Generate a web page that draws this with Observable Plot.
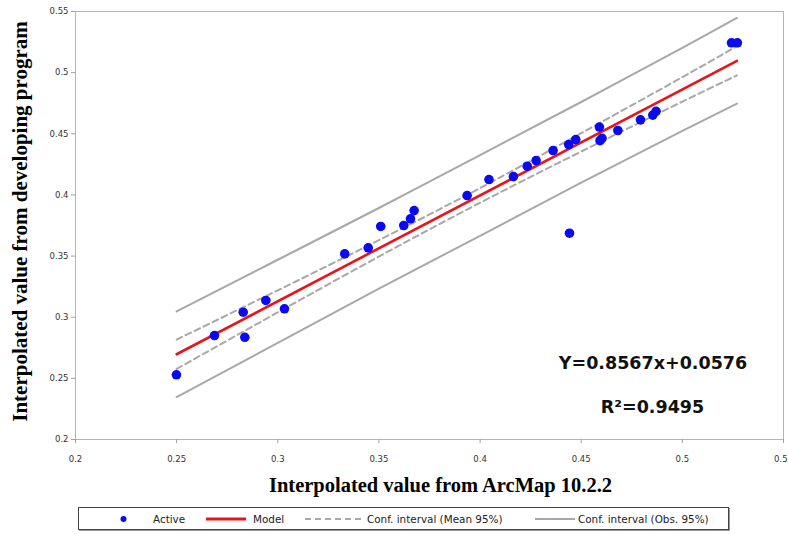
<!DOCTYPE html>
<html><head><meta charset="utf-8">
<script src="https://cdn.jsdelivr.net/npm/d3@7"></script>
<script src="https://cdn.jsdelivr.net/npm/@observablehq/plot@0.6"></script>
<style>
body{margin:0;background:#fff;}
#wrap{position:relative;width:788px;height:534px;overflow:hidden;background:#fff;}
#legend{position:absolute;left:78px;top:507px;width:651px;height:23px;border:1px solid #444;box-sizing:border-box;background:#fff;box-shadow:1px 1px 0 #999;}
.lt{position:absolute;top:50%;transform:translateY(-52%);font:10.4px "DejaVu Sans",sans-serif;color:#222;white-space:nowrap;}
.sw{position:absolute;top:0;}
</style></head><body>
<div id="wrap"><div id="chart"></div>
<div id="legend">
  <svg class="sw" width="651" height="21" style="left:0">
    <circle cx="44.5" cy="11" r="3" fill="#0a0af0"></circle>
    <line x1="127" x2="167" y1="11" y2="11" stroke="#e8141c" stroke-width="3"></line>
    <line x1="226" x2="286" y1="11" y2="11" stroke="#a8a8a8" stroke-width="2" stroke-dasharray="6,4"></line>
    <line x1="456" x2="496" y1="11" y2="11" stroke="#a8a8a8" stroke-width="2"></line>
  </svg>
  <span class="lt" style="left:74px">Active</span>
  <span class="lt" style="left:174px">Model</span>
  <span class="lt" style="left:288px">Conf. interval (Mean 95%)</span>
  <span class="lt" style="left:499px">Conf. interval (Obs. 95%)</span>
</div>
</div>
<script>
// Observed points ("Active")
const activeX = [0.2499, 0.2687, 0.2829, 0.2837, 0.2941, 0.3033, 0.3331, 0.3447, 0.3509, 0.3623, 0.3656, 0.3674, 0.3936, 0.4044, 0.4165, 0.4233, 0.4277, 0.4361, 0.4438, 0.4473, 0.4590, 0.4603, 0.4593, 0.4681, 0.4793, 0.4854, 0.4870, 0.4442, 0.5243, 0.5272];
const activeY = [0.2529, 0.2850, 0.3041, 0.2836, 0.3137, 0.3069, 0.3518, 0.3567, 0.3742, 0.3750, 0.3805, 0.3872, 0.3995, 0.4126, 0.4150, 0.4235, 0.4281, 0.4363, 0.4412, 0.4453, 0.4555, 0.4463, 0.4444, 0.4527, 0.4614, 0.4653, 0.4684, 0.3687, 0.5244, 0.5244];
// Model line (end points)
const modelX = [0.25, 0.527];
const modelY = [0.2697, 0.5097];
// Confidence bands, read at these x positions
const bandX = [0.25, 0.30, 0.35, 0.40, 0.45, 0.50, 0.527];
const meanUpper = [0.2817, 0.3220, 0.3630, 0.4056, 0.4505, 0.4963, 0.5217];
const meanLower = [0.2577, 0.3040, 0.3496, 0.3936, 0.4355, 0.4763, 0.4977];
const obsUpper = [0.3047, 0.3470, 0.3893, 0.4326, 0.4760, 0.5203, 0.5447];
const obsLower = [0.2347, 0.2790, 0.3233, 0.3666, 0.4100, 0.4523, 0.4747];
// Axis ticks
const xTicks = [0.2, 0.25, 0.3, 0.35, 0.4, 0.45, 0.5, 0.55];
const yTicks = [0.2, 0.25, 0.3, 0.35, 0.4, 0.45, 0.5, 0.55];
const xTitle = "Interpolated value from ArcMap 10.2.2";
const yTitle = "Interpolated value from developing program";
const eqText = "Y=0.8567x+0.0576";
const r2Text = "R²=0.9495";

const pts = activeX.map((x, i) => ({x, y: activeY[i]}));
const model = modelX.map((x, i) => ({x, y: modelY[i]}));
const bands = bandX.map((x, i) => ({x, mu: meanUpper[i], ml: meanLower[i], ou: obsUpper[i], ol: obsLower[i]}));
const fmt = d => String(+d.toFixed(2));
const grey = "#a8a8a8";

const chart = Plot.plot({
  width: 788, height: 505,
  marginLeft: 75, marginRight: 5, marginTop: 11, marginBottom: 66,
  x: {domain: [0.2, 0.55]},
  y: {domain: [0.2, 0.55]},
  style: {fontFamily: "DejaVu Sans", fontSize: "8.5px", background: "#fff", overflow: "visible"},
  marks: [
    Plot.frame({stroke: "#b4b4b4"}),
    Plot.axisX(xTicks, {tickSize: 4, tickPadding: 12, tickFormat: fmt, label: null, stroke: "#a0a0a0", fill: "#333"}),
    Plot.axisY(yTicks, {tickSize: 4, tickPadding: 3, tickFormat: fmt, label: null, stroke: "#a0a0a0", fill: "#333"}),
    Plot.line(bands, {x: "x", y: "ou", stroke: grey, strokeWidth: 2, curve: "natural"}),
    Plot.line(bands, {x: "x", y: "ol", stroke: grey, strokeWidth: 2, curve: "natural"}),
    Plot.line(bands, {x: "x", y: "mu", stroke: grey, strokeWidth: 2, strokeDasharray: "6,4", curve: "natural"}),
    Plot.line(bands, {x: "x", y: "ml", stroke: grey, strokeWidth: 2, strokeDasharray: "6,4", curve: "natural"}),
    Plot.line(model, {x: "x", y: "y", stroke: "#e8141c", strokeWidth: 2.6}),
    Plot.dot(pts, {x: "x", y: "y", r: 4.8, fill: "#0a0af0"}),
    Plot.text([eqText], {text: d => d, frameAnchor: "bottom-right", dx: -130.5, dy: -76, textAnchor: "middle", lineAnchor: "middle", fontSize: 17.5, fontWeight: "bold", fill: "#111"}),
    Plot.text([r2Text], {text: d => d, frameAnchor: "bottom-right", dx: -131, dy: -32, textAnchor: "middle", lineAnchor: "middle", fontSize: 17.5, fontWeight: "bold", fill: "#111"}),
    Plot.text([xTitle], {text: d => d, frameAnchor: "bottom", dx: 11, dy: 46, textAnchor: "middle", lineAnchor: "middle", fontSize: 20.5, fontWeight: "bold", fontFamily: "Liberation Serif", fill: "#000"}),
    Plot.text([yTitle], {text: d => d, frameAnchor: "left", dx: -55, dy: -4, rotate: -90, textAnchor: "middle", lineAnchor: "middle", fontSize: 21, fontWeight: "bold", fontFamily: "Liberation Serif", fill: "#000"})
  ]
});
document.getElementById("chart").appendChild(chart);
</script>
</body></html>
